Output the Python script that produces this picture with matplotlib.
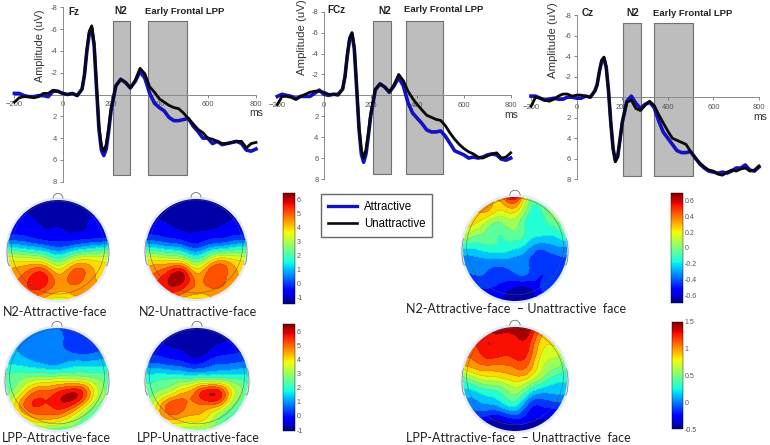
import numpy as np
import matplotlib
matplotlib.use('Agg')
import matplotlib.pyplot as plt
import matplotlib.tri as tri
from matplotlib.lines import Line2D
from matplotlib.patches import Circle, Arc, Ellipse

plt.rcParams['font.family'] = ['Liberation Sans', 'DejaVu Sans']

W, H = 770, 445

# time points of the ERP curves (finer around the early peaks)
times = list(range(-200, 81, 20)) + list(range(90, 201, 10)) + list(range(220, 801, 20))

fz_attr = [-.1, -.1, .1, .2, .2, .1, .1, .2, -.3, -.3, -.1, 0, -.1, .1, -.5,
           -1.8, -4.0, -5.6, -6.1, -4.5, -.6, 3.2, 5.1, 5.6, 5.0, 3.4, 1.5,
           -.8, -1.4, -1.1, -.6, -1.2, -2.1, -1.5, -.1, .8, 1.2, 1.5, 2.1, 2.4, 2.4, 2.3,
           2.2, 2.9, 3.4, 4.0, 4.0, 4.5, 4.3, 4.6, 4.5, 4.4, 4.3, 4.5, 5.1, 5.2, 5.0]
fz_unattr = [.7, .3, .2, .2, .3, .2, -.1, -.1, -.4, -.3, -.1, 0, -.1, .1, -.5,
             -1.8, -4.1, -5.8, -6.3, -4.7, -.8, 2.9, 4.7, 5.2, 4.6, 3.1, 1.3,
             -.8, -1.4, -1.1, -.6, -1.3, -2.4, -1.9, -.7, -.2, .4, .7, 1.0, 1.2, 1.3, 1.7,
             2.2, 2.7, 3.2, 3.5, 4.0, 4.1, 4.3, 4.5, 4.5, 4.4, 4.3, 4.3, 4.9, 4.5, 4.4]
fcz_attr = [.1, -.1, 0, .1, .3, .1, .1, .1, -.2, -.5, -.1, 0, -.1, -.1, -.6,
            -1.8, -3.8, -5.4, -5.9, -4.4, -.7, 3.2, 5.6, 6.4, 5.6, 3.9, 2.0,
            -.5, -1.1, -.8, -.3, -.9, -1.7, -.9, .7, 1.7, 2.2, 2.7, 3.3, 3.5, 3.5, 3.4,
            3.9, 4.6, 5.3, 5.5, 5.7, 6.0, 5.9, 6.0, 5.9, 5.7, 5.6, 5.7, 6.1, 6.2, 6.0]
fcz_unattr = [.9, .1, .1, .2, .4, .1, -.1, -.3, -.4, -.4, -.3, -.1, -.1, 0, -.6,
              -1.8, -3.9, -5.5, -6.0, -4.6, -.9, 3.0, 5.2, 6.0, 5.2, 3.6, 1.8,
              -.6, -1.1, -.8, -.3, -1.0, -2.0, -1.4, -.4, .3, .9, 1.4, 1.9, 2.1, 2.3, 2.4,
              2.9, 3.6, 4.2, 4.7, 5.1, 5.4, 5.6, 5.9, 6.0, 5.8, 5.6, 5.5, 6.0, 5.9, 5.5]
cz_attr = [-.1, -.1, .1, .3, .2, .1, .2, .2, 0, 0, .1, .1, -.1, 0, -.6,
           -1.2, -2.5, -3.5, -3.8, -2.9, -.6, 2.5, 5.0, 6.2, 5.8, 4.2, 2.5,
           .4, -.1, .6, 1.1, .7, .5, 1.0, 2.3, 3.4, 4.0, 4.6, 5.2, 5.4, 5.4, 5.3,
           5.9, 6.5, 6.9, 7.2, 7.3, 7.4, 7.3, 7.4, 7.2, 6.9, 6.9, 6.6, 7.1, 7.2, 6.8]
cz_unattr = [.9, 0, .1, .3, .4, .2, -.1, -.3, -.3, -.1, -.2, -.2, -.1, 0, -.6,
             -1.2, -2.5, -3.6, -3.9, -2.9, -.6, 2.5, 5.0, 6.3, 5.8, 4.2, 2.5,
             .5, .3, 1.1, 1.3, .8, .4, .8, 1.7, 2.5, 3.3, 4.0, 4.2, 4.4, 4.6, 5.3,
             5.9, 6.4, 6.8, 7.1, 7.2, 7.5, 7.6, 7.3, 7.1, 7.2, 7.0, 6.9, 7.2, 7.1, 6.7]

# scalp maps read on a 9x9 grid, first row = front of the head
n2_attr_map = [[-1.2] * 9,
               [-.7, -.9, -1.1, -1.2, -1.2, -1.2, -1.2, -1.0, -.8],
               [-.5, -.6, -.8, -1, -1, -1.1, -1, -.8, -.6],
               [-.1, -.2, -.4, -.6, -.6, -.7, -.6, -.5, -.3],
               [2.0, 1.7, 1.4, 1.0, .6, 1.0, 1.5, 1.8, 2.1],
               [3.8, 3.8, 3.9, 3.5, 2.6, 3.5, 4.1, 3.8, 3.6],
               [4.4, 4.7, 5.4, 5.4, 4.3, 4.9, 4.9, 4.2, 3.9],
               [4.8, 5.0, 5.5, 5.2, 4.5, 4.6, 4.5, 4.3, 4.1],
               [4.4, 4.4, 4.2, 3.8, 3.2, 3.7, 4.2, 4.3, 4.3]]
n2_unattr_map = [[-1.4] * 9,
                 [-1, -1.2, -1.3, -1.4, -1.4, -1.4, -1.3, -1.2, -1],
                 [-.6, -.8, -1, -1.2, -1.2, -1.2, -1, -.8, -.6],
                 [-.2, -.3, -.5, -.7, -.8, -.6, -.5, -.3, -.2],
                 [1.8, 1.5, 1.2, .8, .3, .9, 1.4, 1.7, 1.9],
                 [3.8, 3.8, 3.8, 3.5, 2.4, 3.5, 4.4, 3.9, 3.6],
                 [4.6, 5.0, 5.8, 5.9, 4.3, 5.0, 5.2, 4.4, 4.0],
                 [5.3, 5.5, 5.9, 5.5, 4.7, 4.8, 4.8, 4.5, 4.3],
                 [5.0, 4.8, 4.5, 4.0, 3.6, 3.9, 4.3, 4.4, 4.4]]
lpp_attr_map = [[1, 1, 1, .8, .6, .3, .2, .3, .4],
                [1.1, 1.1, 1, .9, .7, .4, .3, .3, .4],
                [1.2, 1.1, .9, .7, .6, .6, .5, .6, .7],
                [1.8, 1.7, 1.5, 1.3, 1.2, 1.5, 1.6, 1.6, 1.6],
                [2.3, 2.6, 3.0, 3.2, 3.3, 3.3, 3.2, 2.8, 2.3],
                [2.6, 3.3, 4.6, 5.0, 5.3, 5.8, 5.4, 3.6, 2.5],
                [2.9, 4.3, 5.4, 5.4, 5.7, 5.6, 4.4, 2.9, 2.4],
                [3.0, 3.4, 4.3, 4.6, 4.5, 3.8, 2.8, 2.2, 2.2],
                [2.5, 2.5, 2.6, 2.6, 2.4, 2.4, 2.4, 2.3, 2.3]]
lpp_unattr_map = [[-.6, -.8, -1, -1, -1, -1, -.9, -.8, -.6],
                  [-.3, -.5, -.8, -.9, -1, -.8, -.6, -.4, -.2],
                  [0, -.1, -.3, -.5, -.8, -.4, -.1, 0, .1],
                  [.9, .8, .6, .4, .2, .5, .7, .8, .9],
                  [2.0, 2.1, 2.2, 2.3, 2.5, 2.6, 2.5, 2.2, 1.9],
                  [2.4, 2.8, 3.4, 4.2, 5.0, 5.8, 5.2, 3.3, 2.4],
                  [2.8, 4.0, 5.2, 5.0, 4.8, 4.9, 4.2, 2.6, 2.2],
                  [3.0, 4.0, 4.6, 4.3, 4.2, 3.6, 2.5, 2.1, 2.1],
                  [3.0, 3.1, 3.1, 3.0, 2.8, 2.6, 2.3, 2.2, 2.2]]
n2_diff_map = [[.3, .3, .3, .4, .6, .1, .05, .1, .1],
               [.3, .3, .3, .2, .25, -.05, -.1, .1, .15],
               [.25, .2, .05, 0, .05, -.15, -.15, -.05, .05],
               [.1, 0, -.05, -.1, -.05, -.15, -.2, -.2, -.1],
               [-.2, -.2, -.15, -.15, -.2, -.3, -.4, -.35, -.35],
               [-.35, -.35, -.35, -.35, -.35, -.4, -.45, -.45, -.4],
               [-.4, -.4, -.42, -.45, -.42, -.42, -.5, -.45, -.4],
               [-.5, -.5, -.5, -.55, -.62, -.62, -.5, -.45, -.45],
               [-.5, -.55, -.55, -.6, -.65, -.65, -.6, -.55, -.5]]
lpp_diff_map = [[1.2, 1.3, 1.35, 1.45, 1.5, 1.45, 1.0, .9, .8],
                [1.2, 1.25, 1.35, 1.3, 1.3, 1.3, .9, .85, .75],
                [1.1, 1.15, 1.3, 1.25, 1.28, 1.2, .8, .7, .55],
                [.9, 1.0, 1.05, 1.05, 1.1, 1.05, .7, .55, .4],
                [.4, .6, .7, .75, .85, .75, .5, .3, .25],
                [.15, .2, .3, .4, .55, .3, .1, .1, .1],
                [-.05, 0, .05, .15, .25, -.1, -.2, -.15, -.1],
                [-.2, -.2, -.3, -.3, -.2, -.3, -.35, -.35, -.3],
                [-.4, -.4, -.45, -.45, -.45, -.45, -.45, -.4, -.4]]

BLUE = '#1212c4'
BLACK = '#0a0a0a'
TICK_GRAY = '#555555'

fig = plt.figure(figsize=(W / 100, H / 100), dpi=100)


# axes from pixel box of the reference image
def px_axes(left, top, right, bottom):
  return fig.add_axes([left / W, 1 - bottom / H, (right - left) / W, (bottom - top) / H])


def px_text(x, y, s, **kw):
  kw.setdefault('ha', 'center')
  kw.setdefault('va', 'center')
  fig.text(x / W, 1 - y / H, s, **kw)


# one ERP panel with its two grey windows
def erp_panel(box, attr, unattr, n2_win, lpp_win, shade):
  ax = px_axes(*box)
  ax.set_xlim(-200, 800)
  ax.set_ylim(8, -8)
  ax.patch.set_alpha(0)
  for win in (n2_win, lpp_win):
    ax.fill_between(win, shade[0], shade[1], facecolor='#bdbdbd', edgecolor='#707070', lw=0.8, zorder=1)
  ax.plot(times, attr, color=BLUE, lw=2.6, clip_on=False, zorder=3)
  ax.plot(times, unattr, color=BLACK, lw=2.0, clip_on=False, zorder=4)
  for side in ('top', 'right'):
    ax.spines[side].set_visible(False)
  ax.spines['left'].set_position(('data', 0))
  ax.spines['bottom'].set_position(('data', 0))
  for side in ('left', 'bottom'):
    ax.spines[side].set_color('#8a8a8a')
    ax.spines[side].set_linewidth(0.7)
    ax.spines[side].set_zorder(2)
  ax.set_xticks(range(-200, 801, 200))
  ax.set_yticks([-8, -6, -4, -2, 2, 4, 6, 8])
  ax.set_yticklabels(['-8', '-6', '-4', '-2', '2', '4', '6', '8'])
  ax.tick_params(labelsize=5.5, colors=TICK_GRAY, length=2, width=0.5, pad=2)
  ax.tick_params(axis='x', pad=3)
  return ax


erp_panel((14.4, 7.3, 256, 181.7), fz_attr, fz_unattr, (209, 280), (352, 513), (-6.76, 7.4))
erp_panel((277.3, 11.7, 510.7, 179), fcz_attr, fcz_unattr, (211, 286), (352, 512), (-7.1, 7.5))
erp_panel((531, 15, 759, 179.3), cz_attr, cz_unattr, (205, 281), (341, 512), (-7.26, 7.67))

for x, y, s in [(74, 12, 'Fz'), (121, 11, 'N2'), (336, 10, 'FCz'), (385, 11, 'N2'),
                (588, 13, 'Cz'), (633, 13, 'N2')]:
  px_text(x, y, s, fontsize=7.2, fontweight='bold', color='#222222')
for x, y in [(185, 11), (444, 10), (693, 13)]:
  px_text(x, y, 'Early Frontal LPP', fontsize=6.8, fontweight='bold', color='#222222')
for x, y, size in [(40, 46, 7.8), (302, 37, 8.2), (553, 40, 8.2)]:
  px_text(x, y, 'Amplitude (uV)', fontsize=size, rotation=90, color='#333333')
for x, y in [(256, 113), (511, 115), (760, 117)]:
  px_text(x, y, 'ms', fontsize=7.5, color='#333333')


# scalp map: contour bands clipped to the head circle
def topo(cx, cy, r, grid, vmin, vmax):
  pad = 1.2
  ax = px_axes(cx - r * pad, cy - r * pad, cx + r * pad, cy + r * pad)
  ax.set_xlim(-pad, pad)
  ax.set_ylim(-pad, pad)
  ax.axis('off')
  ax.add_patch(Circle((0, 0), 1.05, fc='#e4ecf9', ec='none', zorder=0))

  xs, ys = np.meshgrid(np.linspace(-1, 1, 9), np.linspace(1, -1, 9))
  mesh = tri.Triangulation(xs.ravel(), ys.ravel())
  fine, field = tri.UniformTriRefiner(mesh).refine_field(np.array(grid, dtype=float).ravel(), subdiv=3)
  levels = np.linspace(vmin, vmax, 15)
  clip = Circle((0, 0), 1.0, transform=ax.transData)
  bands = ax.tricontourf(fine, field, levels=levels, cmap='jet', vmin=vmin, vmax=vmax, extend='both', zorder=1)
  bands.set_clip_path(clip)
  lines = ax.tricontour(fine, field, levels=levels, colors='#303030', linewidths=0.2, alpha=0.4, zorder=2)
  lines.set_clip_path(clip)

  # head outline, nose and ears
  ax.add_patch(Circle((0, 0.05), 0.93, fc='none', ec='#505050', lw=0.3, zorder=3))
  ax.add_patch(Arc((0, 1.03), 0.2, 0.2, theta1=0, theta2=180, ec='#555555', lw=0.5, zorder=3))
  for side in (-1, 1):
    ax.add_patch(Ellipse((side * 0.97, -0.05), 0.1, 0.52, fc='#d5e2f2', ec='#666666', lw=0.4, zorder=0.5))


def colorbar(left, top, right, bottom, vmin, vmax, ticks):
  cax = px_axes(left, top, right, bottom)
  sm = plt.cm.ScalarMappable(norm=plt.Normalize(vmin, vmax), cmap='jet')
  cb = fig.colorbar(sm, cax=cax, ticks=ticks)
  cb.outline.set_linewidth(0.3)
  cb.ax.set_yticklabels([str(t) for t in ticks])
  cb.ax.tick_params(labelsize=5, length=0, pad=1, colors=TICK_GRAY)


topo(58, 250, 50, n2_attr_map, -1.5, 6.5)
topo(196, 249, 50, n2_unattr_map, -1.5, 6.5)
topo(57, 379, 51, lpp_attr_map, -1.07, 6.5)
topo(197, 379, 51, lpp_unattr_map, -1.07, 6.5)
topo(515, 249, 52, n2_diff_map, -0.7, 0.7)
topo(515, 379, 52, lpp_diff_map, -0.5, 1.5)

colorbar(283, 193, 295, 304, -1.5, 6.5, [-1, 0, 1, 2, 3, 4, 5, 6])
colorbar(283, 324, 295, 431, -1.07, 6.5, [-1, 0, 1, 2, 3, 4, 5, 6])
colorbar(671, 193, 683, 303, -0.7, 0.7, [-0.6, -0.4, -0.2, 0, 0.2, 0.4, 0.6])
colorbar(672, 322, 683, 429, -0.5, 1.5, [-0.5, 0, 0.5, 1, 1.5])

for x, y, s in [(55, 312, 'N2-Attractive-face'), (198, 312, 'N2-Unattractive-face'),
                (56, 438, 'LPP-Attractive-face'), (198, 438, 'LPP-Unattractive-face'),
                (516, 309, 'N2-Attractive-face  \u2013 Unattractive  face'),
                (518, 438, 'LPP-Attractive-face  \u2013 Unattractive  face')]:
  px_text(x, y, s, fontsize=9, family=['Lato', 'DejaVu Sans'], color='#222222')

# legend box between the panels
handles = [Line2D([], [], color=BLUE, lw=2.4), Line2D([], [], color=BLACK, lw=1.9)]
fig.legend(handles, ['Attractive', 'Unattractive'], loc='upper left',
           bbox_to_anchor=(321 / W, 1 - 194 / H), borderaxespad=0, fancybox=False,
           edgecolor='#666666', framealpha=1, fontsize=8.3, handlelength=2.5,
           labelspacing=0.45, handletextpad=0.6, borderpad=0.6)

fig.savefig('out.png', dpi=100)
